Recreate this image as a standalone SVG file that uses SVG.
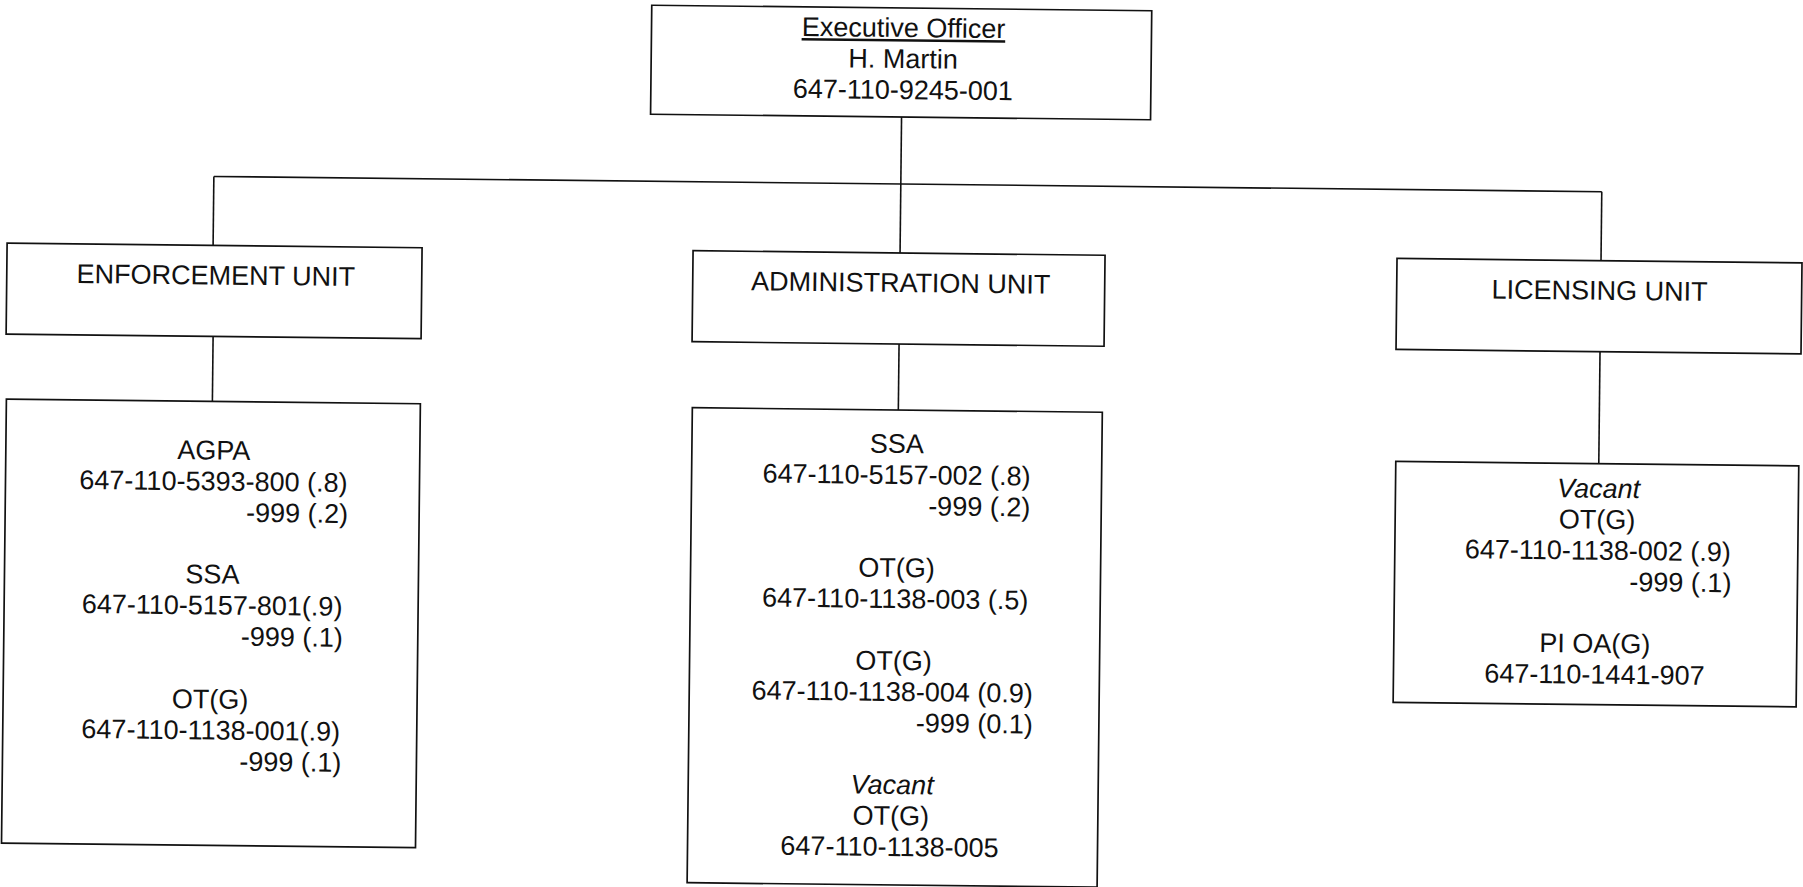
<svg xmlns="http://www.w3.org/2000/svg" width="1803" height="887" viewBox="0 0 1803 887">
<style>
  .box { fill: #ffffff; stroke: #111111; stroke-width: 1.7; }
  .conn line { stroke: #111111; stroke-width: 1.6; }
  text { font-family: "Liberation Sans", Arial, sans-serif; font-size: 27px; fill: #111111; }
  .c { text-anchor: middle; }
  .e { text-anchor: end; }
  .it { font-style: italic; }
  .ul { text-decoration: underline; }
</style>
<rect x="0" y="0" width="1803" height="887" fill="#ffffff"/>
<g transform="rotate(0.63 900 440)">
  <g id="connectors" class="conn">
    <line x1="898" y1="117" x2="898" y2="253"/>
    <line x1="211" y1="184" x2="1599" y2="184"/>
    <line x1="211" y1="184" x2="211" y2="253"/>
    <line x1="1599" y1="184" x2="1599" y2="253"/>
    <line x1="212" y1="344" x2="212" y2="409"/>
    <line x1="898" y1="344" x2="898" y2="410"/>
    <line x1="1599" y1="344" x2="1599" y2="456"/>
  </g>
  <g id="executive-officer">
    <rect class="box" x="647" y="8" width="500" height="109"/>
    <text class="c ul" x="899" y="37">Executive Officer</text>
    <text class="c" x="899" y="68">H. Martin</text>
    <text class="c" x="899" y="99">647-110-9245-001</text>
  </g>
  <g id="enforcement-unit">
    <rect class="box" x="5" y="253" width="415" height="91"/>
    <text class="c" x="214" y="292">ENFORCEMENT UNIT</text>
  </g>
  <g id="administration-unit">
    <rect class="box" x="691" y="253" width="412" height="91"/>
    <text class="c" x="899" y="292">ADMINISTRATION UNIT</text>
  </g>
  <g id="licensing-unit">
    <rect class="box" x="1395" y="253" width="405" height="91"/>
    <text class="c" x="1598" y="292">LICENSING UNIT</text>
  </g>
  <g id="enforcement-staff">
    <rect class="box" x="6" y="409" width="414" height="444"/>
    <text class="c" x="214" y="467">AGPA</text>
    <text class="c" x="214" y="498">647-110-5393-800 (.8)</text>
    <text class="e" x="349" y="529">-999 (.2)</text>
    <text class="c" x="214" y="591">SSA</text>
    <text class="c" x="214" y="622">647-110-5157-801(.9)</text>
    <text class="e" x="345" y="653">-999 (.1)</text>
    <text class="c" x="213" y="716">OT(G)</text>
    <text class="c" x="214" y="747">647-110-1138-001(.9)</text>
    <text class="e" x="345" y="778">-999 (.1)</text>
  </g>
  <g id="administration-staff">
    <rect class="box" x="692" y="410" width="410" height="475"/>
    <text class="c" x="897" y="453">SSA</text>
    <text class="c" x="897" y="484">647-110-5157-002 (.8)</text>
    <text class="e" x="1031" y="515">-999 (.2)</text>
    <text class="c" x="898" y="577">OT(G)</text>
    <text class="c" x="897" y="608">647-110-1138-003 (.5)</text>
    <text class="c" x="896" y="670">OT(G)</text>
    <text class="c" x="895" y="701">647-110-1138-004 (0.9)</text>
    <text class="e" x="1036" y="732">-999 (0.1)</text>
    <text class="c it" x="896" y="794">Vacant</text>
    <text class="c" x="895" y="825">OT(G)</text>
    <text class="c" x="894" y="856">647-110-1138-005</text>
  </g>
  <g id="licensing-staff">
    <rect class="box" x="1396" y="456" width="403" height="241"/>
    <text class="c it" x="1599" y="490">Vacant</text>
    <text class="c" x="1598" y="521">OT(G)</text>
    <text class="c" x="1599" y="552">647-110-1138-002 (.9)</text>
    <text class="e" x="1733" y="583">-999 (.1)</text>
    <text class="c" x="1597" y="645">PI OA(G)</text>
    <text class="c" x="1597" y="676">647-110-1441-907</text>
  </g>
</g>
</svg>
